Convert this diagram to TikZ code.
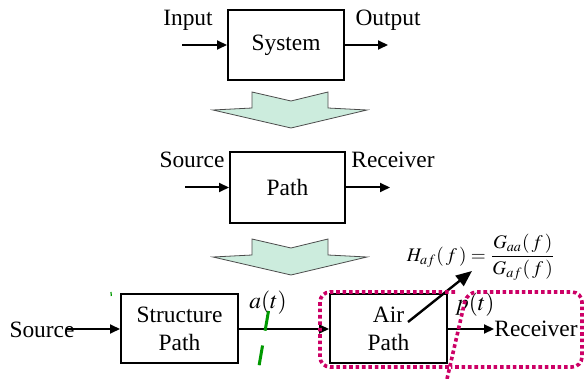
\documentclass[tikz,border=0pt]{standalone}
\usepackage{amsmath}
\usepackage{mathptmx}
\usepackage{fontspec}
\setmainfont{Liberation Serif}
\usetikzlibrary{arrows.meta}

\definecolor{mintfill}{RGB}{204,236,221}
\definecolor{dotpink}{RGB}{204,0,102}
\definecolor{cutgreen}{RGB}{0,153,0}

\tikzset{
  blk/.style={draw, line width=1pt, minimum width=58pt, minimum height=35pt,
    inner sep=0pt, align=center},
  lbl/.style={inner sep=0pt},
  sig/.style={line width=1pt, -{Triangle[length=5pt,width=4.5pt]}},
  bigarrow/.style={draw=black!70, line width=0.4pt, fill=mintfill},
  focus/.style={draw=dotpink, line width=1.8pt, dash pattern=on 1.8pt off 1.4pt,
    rounded corners=5pt},
  cut/.style={draw=cutgreen, line width=1.5pt, dash pattern=on 10pt off 7.5pt},
}

\begin{document}
\begin{tikzpicture}[x=0.5pt, y=-0.5pt, font=\fontsize{11.7}{14}\selectfont]
  \useasboundingbox (0,0) rectangle (584,379);
  % --- Generic system ---
  \node[blk] (sys) at (286,45) {System};
  \node[lbl] (inlbl) at (188,20) {Input};
  \node[lbl] (outlbl) at (388,20) {Output};
  \coordinate (sysin) at (182,45);
  \coordinate (sysout) at (388,45);
  \draw[sig] (sysin) -- (sys);
  \draw[sig] (sys) -- (sysout);
  % --- Refinement arrows ---
  \foreach \dy in {0,147}
    \draw[bigarrow] (252,{92+\dy}) -- (291,{101+\dy}) -- (328,{92+\dy})
      -- (328,{108+\dy}) -- (367,{110+\dy}) -- (291,{128+\dy})
      -- (213,{110+\dy}) -- (252,{108+\dy}) -- cycle;
  % --- Source / path / receiver ---
  \node[blk, minimum width=57.5pt, minimum height=35.5pt] (path) at (287.5,187.5) {Path};
  \node[lbl] (srclbl) at (192,160) {Source};
  \node[lbl] (rcvlbl) at (393,160) {Receiver};
  \coordinate (pathin) at (185,187.5);
  \coordinate (pathout) at (390,187.5);
  \draw[sig] (pathin) -- (path);
  \draw[sig] (path) -- (pathout);
  % --- Structure-borne and airborne paths ---
  \node[blk, minimum width=58.5pt, minimum height=34.5pt] (str) at (179.5,329) {Structure\\Path};
  \node[blk, minimum width=58.5pt, minimum height=34.5pt] (air) at (388.5,329) {Air\\Path};
  \node[lbl] (src) at (42,330) {Source};
  \node[lbl] (rcv) at (536,329) {Receiver};
  \coordinate (srcend) at (67,329);
  \draw[sig] (srcend) -- (str);
  \draw[sig] (str) -- (air);
  \draw[sig] (air) -- (rcv);
  \node[lbl] (acc) at (268,303) {$a(t)$};
  \node[lbl] (prs) at (475,305) {$p(t)$};
  % FRF annotation
  \node[lbl, font=\fontsize{9.6}{12}\selectfont] (hfrf) at (481,257)
    {$H_{af}(\,f\,) = \dfrac{G_{aa}(\,f\,)}{G_{af}(\,f\,)}$};
  \coordinate (airmid) at (408,322);
  \coordinate (hfrftip) at (472,271);
  \draw[line width=1.2pt, -{Triangle[length=8pt,width=6.5pt]}] (airmid) -- (hfrftip);
  % Cut line and focus regions
  \draw[cut] (268.5,311) -- (258.5,369);
  \draw[cutgreen, line width=0.6pt] (111,292) -- (111.3,296);
  \draw[focus] (455,292) -- (320,292) -- (320,367) -- (449,367);
  \draw[focus] (447,379) -- (467,292) -- (582,292) -- (582,367) -- (451,367);
\end{tikzpicture}
\end{document}
